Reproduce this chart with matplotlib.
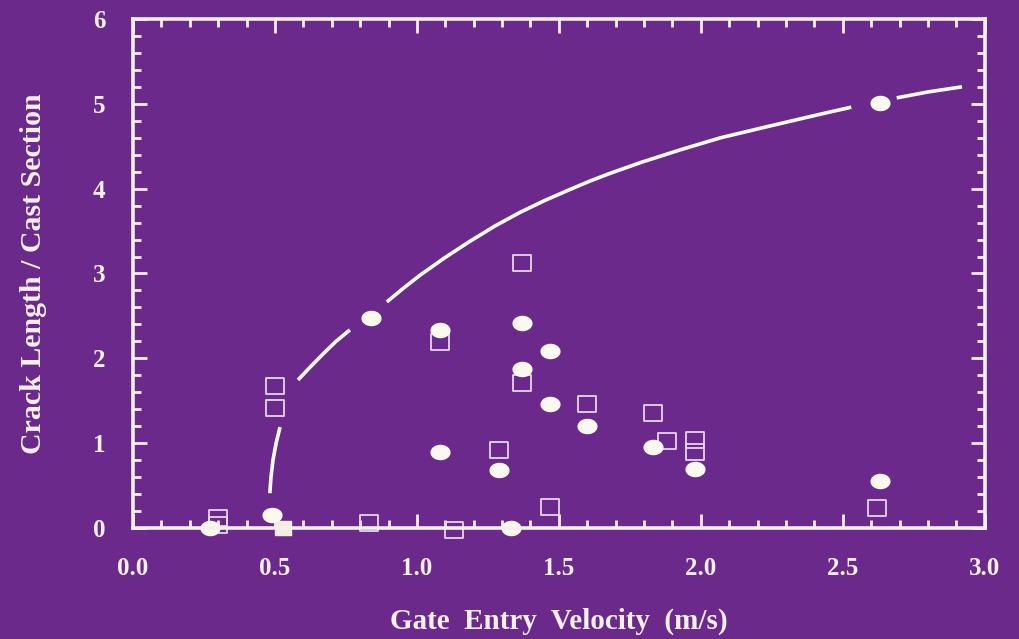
import numpy as np
import matplotlib
matplotlib.use("Agg")
import matplotlib.pyplot as plt
from matplotlib.path import Path
from matplotlib.ticker import MultipleLocator

# Filled circles
circ_x = [0.27, 0.49, 0.84, 1.08, 1.08, 1.29, 1.33, 1.37, 1.37, 1.47, 1.47, 1.60, 1.83, 1.98, 2.63, 2.63]
circ_y = [0.00, 0.15, 2.48, 2.33, 0.89, 0.68, 0.00, 2.42, 1.88, 2.09, 1.46, 1.20, 0.96, 0.69, 5.01, 0.55]

# Open squares
sq_x = [0.30, 0.30, 0.50, 0.50, 0.83, 1.08, 1.13, 1.29, 1.37, 1.37, 1.47, 1.60, 1.83, 1.88, 1.98, 1.98, 2.62]
sq_y = [0.12, 0.03, 1.67, 1.42, 0.06, 2.19, -0.02, 0.92, 3.12, 1.71, 0.25, 1.46, 1.35, 1.02, 1.04, 0.89, 0.24]

# Filled square
fsq_x = [0.53]
fsq_y = [0.00]

# Fitted curve (nan = break in the line)
curve_x = [0.482, 0.486, 0.493, 0.504, 0.518, np.nan,
           0.581, 0.625, 0.669, 0.715, 0.764, np.nan,
           0.894, 0.95, 1.011, 1.10, 1.187, 1.275, 1.363, 1.45, 1.539, 1.61, 1.68, 1.79,
           1.93, 2.07, 2.22, 2.36, 2.45, 2.53, np.nan,
           2.69, 2.80, 2.92]
curve_y = [0.41, 0.60, 0.80, 1.00, 1.19, np.nan,
           1.745, 1.90, 2.05, 2.20, 2.335, np.nan,
           2.665, 2.82, 2.98, 3.19, 3.38, 3.56, 3.72, 3.86, 3.99, 4.09, 4.18, 4.31,
           4.46, 4.60, 4.72, 4.83, 4.90, 4.96, np.nan,
           5.07, 5.14, 5.20]

x_ticks = [0.0, 0.5, 1.0, 1.5, 2.0, 2.5, 3.0]
y_ticks = [0, 1, 2, 3, 4, 5, 6]

bg = '#6b2a8b'
fg = '#f6f0ea'

plt.rcParams['font.family'] = ['Liberation Serif', 'DejaVu Serif']
plt.rcParams['font.weight'] = 'bold'

# ellipse / wide rectangle markers
t = np.linspace(0, 2 * np.pi, 60)
ellipse = Path(np.column_stack([1.3 * np.cos(t), np.sin(t)]), closed=True)
rect = Path([(-1.2, -1), (1.2, -1), (1.2, 1), (-1.2, 1), (-1.2, -1)], closed=True)

fig = plt.figure(figsize=(10.2, 6.39), dpi=100, facecolor=bg)
ax = fig.add_axes([0.1304, 0.1737, 0.835, 0.7966], facecolor=bg)

ax.plot(curve_x, curve_y, color='white', lw=2.6, solid_capstyle='butt', solid_joinstyle='round')
ax.plot(sq_x, sq_y, ls='none', marker=rect, ms=13.5, mfc='none', mec='#e6d6ea', mew=1.3, clip_on=False)
ax.plot(fsq_x, fsq_y, ls='none', marker=rect, ms=12, mfc='#f2ece4', mec='#f2ece4', clip_on=False)
ax.plot(circ_x, circ_y, ls='none', marker=ellipse, ms=14.5, mfc='#fbf8f0', mec='none', clip_on=False)

ax.set_xlim(0, 3.0)
ax.set_ylim(0, 6)
ax.set_xticks(x_ticks)
ax.set_xticklabels([f'{v:.1f}' for v in x_ticks])
ax.set_yticks(y_ticks)
ax.xaxis.set_minor_locator(MultipleLocator(0.1))
ax.yaxis.set_minor_locator(MultipleLocator(0.2))

for s in ax.spines.values():
    s.set_color(fg)
    s.set_linewidth(2.6)

ax.tick_params(which='both', direction='in', top=True, right=True, colors=fg, width=2)
ax.tick_params(which='major', length=10, labelsize=18)
ax.tick_params(which='minor', length=6)
ax.tick_params(axis='x', which='major', pad=21)
ax.tick_params(axis='y', which='major', pad=20)

ax.set_xlabel('Gate  Entry  Velocity  (m/s)', fontsize=21, color=fg, fontweight='bold', labelpad=20)
ax.set_ylabel('Crack Length / Cast Section', fontsize=21.5, color=fg, fontweight='bold', labelpad=33)

fig.savefig('out.png', dpi=100, facecolor=bg)
